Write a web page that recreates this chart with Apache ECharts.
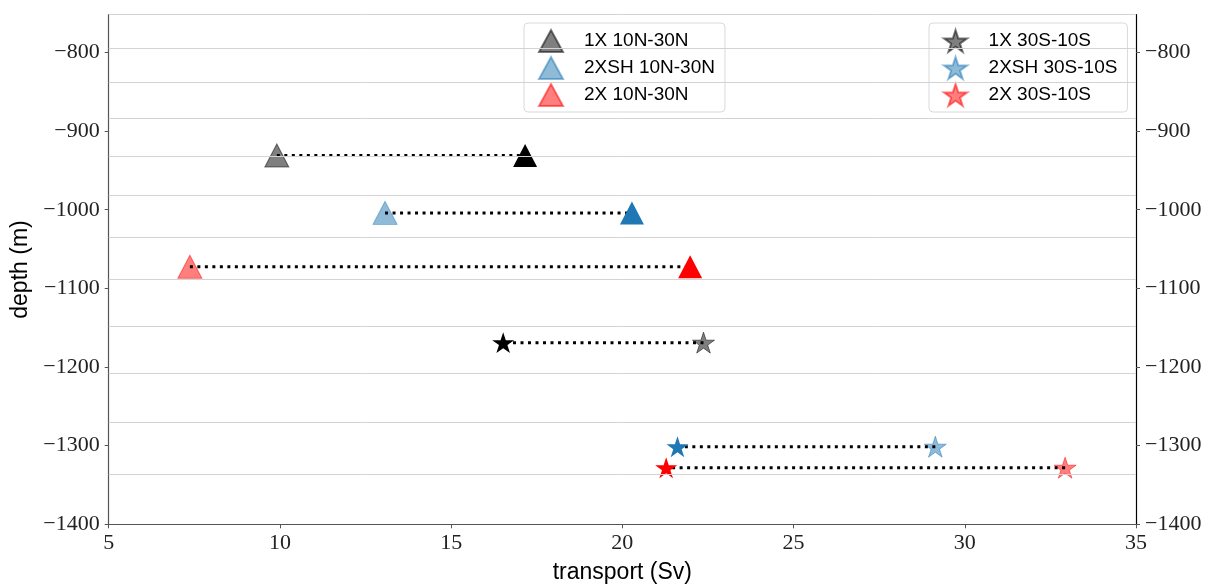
<!DOCTYPE html>
<html>
<head>
<meta charset="utf-8">
<script src="https://cdn.jsdelivr.net/npm/echarts@6/dist/echarts.min.js"></script>
<style>
  html, body { margin: 0; padding: 0; background: #fff; }
  #chart { width: 1207px; height: 584px; }
</style>
</head>
<body>
<div id="chart"></div>
<script>
// experiments
var experiments = ['1X', '2XSH', '2X'];
// 10N-30N: transport of the faded (pale) and solid triangles, and their depth
var northPale = [9.91, 13.07, 7.37];
var northSolid = [17.16, 20.28, 21.98];
var northDepth = [-931, -1004, -1072.5];
// 30S-10S: transport of the faded stars and solid stars, and their depth
var southPale = [22.37, 29.14, 32.93];
var southSolid = [16.52, 21.61, 21.28];
var southDepth = [-1169, -1301.3, -1328];
// model depth levels drawn as horizontal lines
var levelDepths = [-752, -795, -838, -884, -932, -982, -1035, -1089, -1148, -1208, -1270, -1336];
var yTicks = [-1400, -1300, -1200, -1100, -1000, -900, -800];
var xTicks = [5, 10, 15, 20, 25, 30, 35];

var solidColors = ['#000000', '#1f77b4', '#ff0000'];
var paleColors = ['rgba(0,0,0,0.5)', 'rgba(31,119,180,0.5)', 'rgba(255,0,0,0.5)'];
var starPath = 'path://M50 0 L61.23 34.55 L97.55 34.55 L68.17 55.9 L79.39 90.45 L50 69.1 L20.61 90.45 L31.83 55.9 L2.45 34.55 L38.77 34.55 Z';

var serifFont = '"Liberation Serif", "DejaVu Serif", serif';
var sansFont = '"Liberation Sans", Arial, sans-serif';

function minus(v) {
    return (v < 0 ? '\u2212' : '') + Math.abs(v);
}

var chart = echarts.init(document.getElementById('chart'));

var series = [];
// level lines
series.push({
    type: 'scatter',
    name: 'levels',
    data: [],
    silent: true,
    z: 1,
    markLine: {
        silent: true,
        symbol: 'none',
        animation: false,
        label: { show: false },
        lineStyle: { color: '#d3d3d3', width: 1, type: 'solid' },
        data: levelDepths.map(function (d) { return { yAxis: d }; })
    }
});

function addGroup(pale, solid, depth, suffix, symbol, size) {
    experiments.forEach(function (exp, i) {
        series.push({
            type: 'scatter',
            name: exp + ' ' + suffix,
            symbol: symbol,
            symbolSize: size,
            symbolKeepAspect: true,
            itemStyle: { color: paleColors[i], borderColor: paleColors[i], borderWidth: 1, opacity: 1 },
            data: [[pale[i], depth[i]]],
            z: 2
        });
        series.push({
            type: 'line',
            name: exp + ' ' + suffix + ' link',
            symbol: 'none',
            silent: true,
            lineStyle: { color: '#000', width: 3, type: [3, 4.5] },
            data: [[pale[i], depth[i]], [solid[i], depth[i]]],
            z: 3
        });
        series.push({
            type: 'scatter',
            name: exp + ' ' + suffix + ' solid',
            symbol: symbol,
            symbolSize: size,
            symbolKeepAspect: true,
            itemStyle: { color: solidColors[i], opacity: 1 },
            data: [[solid[i], depth[i]]],
            z: 4
        });
    });
}
addGroup(northPale, northSolid, northDepth, '10N-30N', 'triangle', [24, 23]);
addGroup(southPale, southSolid, southDepth, '30S-10S', starPath, 22);

function yAxisDef(pos, lineColor) {
    return {
        type: 'value',
        position: pos,
        min: -1400,
        max: -752,
        axisLine: { show: true, onZero: false, lineStyle: { color: lineColor, width: 1.2 } },
        axisTick: { show: true, inside: false, length: 4, customValues: yTicks, lineStyle: { color: '#555' } },
        axisLabel: {
            customValues: yTicks,
            formatter: minus,
            margin: 9,
            color: '#222',
            fontFamily: serifFont,
            fontSize: 22
        },
        splitLine: { show: false }
    };
}

var legendCommon = {
    orient: 'vertical',
    top: 23,
    padding: [6, 10, 5, 14],
    itemGap: 3,
    itemWidth: 24,
    itemHeight: 22,
    borderColor: '#d9d9d9',
    borderWidth: 1,
    borderRadius: 4,
    backgroundColor: 'rgba(255,255,255,0.85)',
    textStyle: { fontFamily: sansFont, fontSize: 19, lineHeight: 22, color: '#000', padding: [0, 0, 0, 16] }
};

chart.setOption({
    animation: false,
    grid: { left: 108.7, right: 71, top: 14.7, bottom: 59.7, outerBoundsMode: 'none' },
    xAxis: {
        type: 'value',
        min: 5,
        max: 35,
        interval: 5,
        name: 'transport (Sv)',
        nameLocation: 'middle',
        nameGap: 37,
        nameTextStyle: { fontFamily: sansFont, fontSize: 23, color: '#000' },
        axisLine: { onZero: false, lineStyle: { color: '#555', width: 1.2 } },
        axisTick: { length: 4, lineStyle: { color: '#555' } },
        axisLabel: { margin: 8, color: '#222', fontFamily: serifFont, fontSize: 22, formatter: minus },
        splitLine: { show: false }
    },
    yAxis: [
        Object.assign(yAxisDef('left', '#555'), {
            name: 'depth (m)',
            nameLocation: 'middle',
            nameGap: 76,
            nameTextStyle: { fontFamily: sansFont, fontSize: 23, color: '#000' }
        }),
        yAxisDef('right', '#000')
    ],
    legend: [
        Object.assign({}, legendCommon, {
            left: 524,
            data: experiments.map(function (e) { return e + ' 10N-30N'; })
        }),
        Object.assign({}, legendCommon, {
            left: 929,
            data: experiments.map(function (e) { return e + ' 30S-10S'; })
        })
    ],
    series: series
});
</script>
</body>
</html>
